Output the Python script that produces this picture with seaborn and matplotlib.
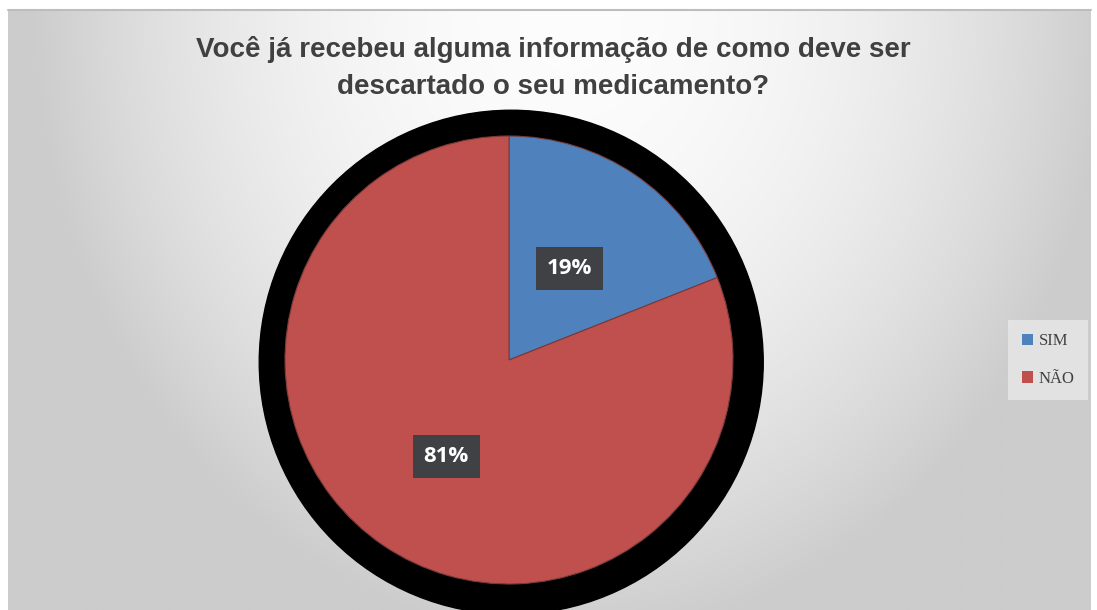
import numpy as np
import matplotlib
matplotlib.use("Agg")
import matplotlib.pyplot as plt
import seaborn as sns
from matplotlib.patches import Circle, Patch

# Data
categories = ["SIM", "NÃO"]
values = [19, 81]
pct_labels = ["19%", "81%"]
colors = ["#4F81BD", "#C0504D"]
title = "Você já recebeu alguma informação de como deve ser\ndescartado o seu medicamento?"

sns.set_style("white")
plt.rcParams['font.family'] = ['Liberation Sans', 'DejaVu Sans']

W, H = 1097, 610
fig = plt.figure(figsize=(W / 100, H / 100), dpi=100)
fig.patch.set_facecolor("white")

# Background gradient panel
bg = fig.add_axes([8 / W, 0, (1091 - 8) / W, (610 - 10) / H])
nx, ny = 300, 200
xx, yy = np.meshgrid(np.linspace(0, 1, nx), np.linspace(0, 1, ny))
d2 = ((xx - 0.52) / 0.5) ** 2 + (yy * 0.95) ** 2
val = 0.99 - 0.19 * np.clip(d2, 0, 1)
img = np.dstack([val, val, val])
bg.imshow(img, aspect="auto", extent=[0, 1, 1, 0], interpolation="bilinear")
bg.set_xlim(0, 1)
bg.set_ylim(1, 0)
bg.axis("off")
# top gray line
fig.add_artist(plt.Line2D([8 / W, 1091 / W], [1 - 10 / H, 1 - 10 / H],
                          color="#bdbdbd", lw=1.5, transform=fig.transFigure))

# Pie axes: center (509, 360) px, radius 224 px
cx, cy, R = 509, 360, 224
half = 250
ax = fig.add_axes([(cx - half) / W, (H - cy - half) / H, 2 * half / W, 2 * half / H])

ax.add_patch(Circle((0.01, -0.01), 1.125, color="black", zorder=0, clip_on=False))
wedges, _ = ax.pie(values, colors=colors, startangle=90, counterclock=False,
                   radius=1.0, wedgeprops=dict(edgecolor="#7a3a3a", linewidth=0.8))
for w in wedges:
    w.set_zorder(1)
lim = half / R
ax.set_xlim(-lim, lim)
ax.set_ylim(-lim, lim)
ax.set_aspect("equal")
ax.axis("off")

label_pos = [(0.27, 0.41), (-0.28, -0.43)]
for (lx, ly), t in zip(label_pos, pct_labels):
    ax.text(lx, ly, t, ha="center", va="center", fontsize=16, fontweight="bold",
            color="white", family=["Open Sans", "DejaVu Sans"], zorder=3,
            bbox=dict(boxstyle="square,pad=0.5", facecolor="#404145",
                      edgecolor="none"))

# Title
fig.text(553 / W, 1 - 68 / H, title, ha="center", va="center", fontsize=20,
         fontweight="bold", color="#404040", linespacing=1.55)

# Legend
handles = [Patch(facecolor=c, edgecolor="none") for c in colors]
leg = fig.legend(handles, categories, loc="center", bbox_to_anchor=(1048 / W, 1 - 360 / H),
                 frameon=True, fancybox=False, facecolor="#e8e8e8", edgecolor="none",
                 prop={"family": ["Liberation Serif", "DejaVu Serif"], "size": 12},
                 handlelength=0.7, handleheight=0.7, handletextpad=0.3,
                 labelspacing=1.3, borderpad=0.8, labelcolor="#404040")

fig.savefig("out.png", dpi=100)
